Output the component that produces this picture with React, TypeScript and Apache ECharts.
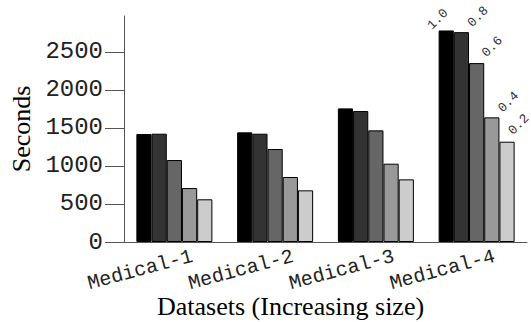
import React, { useEffect, useRef } from "react";
import * as echarts from "echarts";

const categories = ["Medical-1", "Medical-2", "Medical-3", "Medical-4"];
const fractions = ["1.0", "0.8", "0.6", "0.4", "0.2"];
const values10 = [1419, 1441, 1756, 2780];
const values08 = [1423, 1423, 1721, 2758];
const values06 = [1077, 1222, 1467, 2351];
const values04 = [709, 854, 1029, 1638];
const values02 = [561, 679, 823, 1318];
const yTicks = [0, 500, 1000, 1500, 2000, 2500];
const labelledCategory = 3;

const seriesValues = [values10, values08, values06, values04, values02];
const barColors = ["#000000", "#333333", "#666666", "#999999", "#cccccc"];
const labelPositions = [[-9, -3], [16, -7], [15, -8], [16, -7], [11, -9]];

export default function App() {
  const ref = useRef<HTMLDivElement>(null);
  useEffect(() => {
    if (!ref.current) return;
    const chart = echarts.init(ref.current, null, { renderer: "svg" });
    const axisColor = "#555";
    const mono = "'Liberation Mono', 'Courier New', monospace";
    const serif = "'Liberation Serif', 'Times New Roman', serif";
    chart.setOption({
      animation: false,
      backgroundColor: "#ffffff",
      title: {
        text: "Datasets (Increasing size)",
        left: 157,
        top: 293,
        padding: 0,
        textStyle: { fontFamily: serif, fontSize: 26, fontWeight: "normal", color: "#000" },
      },
      grid: [
        { left: 124, right: 4, top: 16, bottom: 80, outerBoundsMode: "none" },
        { left: 142, right: -14, top: 16, bottom: 80, outerBoundsMode: "none" },
      ],
      xAxis: [
        {
          type: "category",
          gridIndex: 0,
          data: categories,
          axisLine: { show: true, lineStyle: { color: axisColor, width: 1 } },
          axisTick: { show: false },
          axisLabel: { show: false },
        },
        {
          type: "category",
          gridIndex: 1,
          data: categories,
          axisLine: { show: false },
          axisTick: { show: false },
          axisLabel: {
            show: true,
            interval: 0,
            rotate: 15,
            margin: 14,
            fontFamily: mono,
            fontSize: 20,
            color: "#222",
          },
        },
      ],
      yAxis: [
        {
          type: "value",
          gridIndex: 0,
          min: 0,
          max: 2970,
          interval: 500,
          name: "Seconds",
          nameLocation: "middle",
          nameGap: 80,
          nameTextStyle: { fontFamily: serif, fontSize: 26, color: "#000" },
          splitLine: { show: false },
          axisLine: { show: true, lineStyle: { color: axisColor, width: 1 } },
          axisTick: {
            show: true,
            length: 19,
            inside: false,
            customValues: yTicks,
            lineStyle: { color: axisColor, width: 1 },
          },
          axisLabel: {
            margin: 21,
            customValues: yTicks,
            formatter: (v: number) => String(v),
            fontFamily: mono,
            fontSize: 24,
            color: "#222",
          },
        },
        { type: "value", gridIndex: 1, min: 0, max: 2970, show: false },
      ],
      series: seriesValues.map((vals, i) => ({
        type: "bar",
        name: fractions[i],
        xAxisIndex: 0,
        yAxisIndex: 0,
        barWidth: 15.2,
        barGap: "0%",
        itemStyle: { color: barColors[i], borderColor: "#000", borderWidth: 1 },
        label: {
          show: false,
          position: labelPositions[i],
          rotate: 45,
          align: "left",
          verticalAlign: "middle",
          fontFamily: mono,
          fontSize: 13,
          color: "#333",
          formatter: () => fractions[i],
        },
        data: vals.map((v, j) =>
          j === labelledCategory ? { value: v, label: { show: true } } : v
        ),
      })),
    });
    return () => chart.dispose();
  }, []);
  return (
    <div
      ref={ref}
      style={{ position: "fixed", left: 0, top: 0, width: 531, height: 322, background: "#fff" }}
    />
  );
}
